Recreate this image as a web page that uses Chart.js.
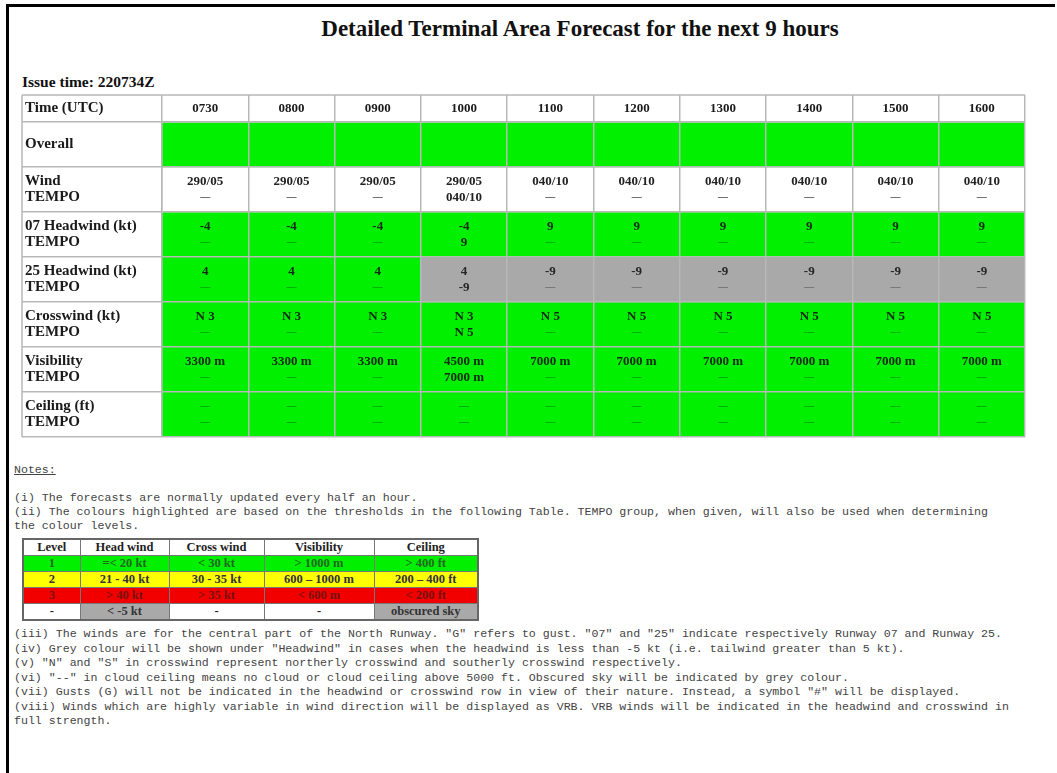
<!DOCTYPE html>
<html>
<head>
<meta charset="utf-8">
<script src="https://cdn.jsdelivr.net/npm/chart.js@4.4.0/dist/chart.umd.min.js"></script>
<style>
  body { margin: 0; width: 1057px; height: 773px; overflow: hidden; position: relative; background: #fff; font-family: "Liberation Serif", "Times New Roman", serif; }
  #frame { position: absolute; left: 6px; top: 4px; width: 1046px; height: 800px; border-top: 3px solid #000; border-left: 3px solid #000; }
  #grid { position: absolute; left: 0; top: 0; }
  #title { position: absolute; left: 0; width: 1160px; top: 15px; line-height: 28px; text-align: center; font-weight: bold; font-size: 23px; color: #111; }
  #issue { position: absolute; left: 22px; top: 73px; line-height: 18px; font-weight: bold; font-size: 15.5px; color: #111; }
  .notes { position: absolute; left: 14px; margin: 0; font-family: "Liberation Mono", "Courier New", monospace; font-size: 11.6px; color: #444; white-space: pre; }
  #notes1 { top: 463px; line-height: 14px; }
  #notes2 { top: 627px; line-height: 14.5px; }
  #notes1 u { text-decoration: underline; }
  #thr { position: absolute; left: 22px; top: 538px; border-collapse: collapse; border: 2px solid #666; font-size: 12.5px; font-weight: bold; color: #222; }
  #thr th, #thr td { border: 1px solid #777; padding: 0; height: 15px; line-height: 15px; text-align: center; }
  #thr .g td { background: #00f000; color: #1f6a1f; }
  #thr .y td { background: #ffff00; color: #333; }
  #thr .r td { background: #f20000; color: #7a1010; }
  #thr td.gr { background: #a9a9a9; color: #333; }
</style>
</head>
<body>
<div id="frame"></div>
<div id="title">Detailed Terminal Area Forecast for the next 9 hours</div>
<div id="issue">Issue time: 220734Z</div>
<canvas id="grid" width="1057" height="445"></canvas>

<pre class="notes" id="notes1"><u>Notes:</u>

(i) The forecasts are normally updated every half an hour.
(ii) The colours highlighted are based on the thresholds in the following Table. TEMPO group, when given, will also be used when determining
the colour levels.</pre>

<table id="thr">
  <colgroup><col style="width:57px"><col style="width:89px"><col style="width:95px"><col style="width:110px"><col style="width:104px"></colgroup>
  <tr><th>Level</th><th>Head wind</th><th>Cross wind</th><th>Visibility</th><th>Ceiling</th></tr>
  <tr class="g"><td>1</td><td>=&lt; 20 kt</td><td>&lt; 30 kt</td><td>&gt; 1000 m</td><td>&gt; 400 ft</td></tr>
  <tr class="y"><td>2</td><td>21 - 40 kt</td><td>30 - 35 kt</td><td>600 – 1000 m</td><td>200 – 400 ft</td></tr>
  <tr class="r"><td>3</td><td>&gt; 40 kt</td><td>&gt; 35 kt</td><td>&lt; 600 m</td><td>&lt; 200 ft</td></tr>
  <tr><td>-</td><td class="gr">&lt; -5 kt</td><td>-</td><td>-</td><td class="gr">obscured sky</td></tr>
</table>

<pre class="notes" id="notes2">(iii) The winds are for the central part of the North Runway. "G" refers to gust. "07" and "25" indicate respectively Runway 07 and Runway 25.
(iv) Grey colour will be shown under "Headwind" in cases when the headwind is less than -5 kt (i.e. tailwind greater than 5 kt).
(v) "N" and "S" in crosswind represent northerly crosswind and southerly crosswind respectively.
(vi) "--" in cloud ceiling means no cloud or cloud ceiling above 5000 ft. Obscured sky will be indicated by grey colour.
(vii) Gusts (G) will not be indicated in the headwind or crosswind row in view of their nature. Instead, a symbol "#" will be displayed.
(viii) Winds which are highly variable in wind direction will be displayed as VRB. VRB winds will be indicated in the headwind and crosswind in
full strength.</pre>

<script>
// forecast columns
const times = ['0730', '0800', '0900', '1000', '1100', '1200', '1300', '1400', '1500', '1600'];

const rowLabels = [
  'Overall',
  ['Wind', 'TEMPO'],
  ['07 Headwind (kt)', 'TEMPO'],
  ['25 Headwind (kt)', 'TEMPO'],
  ['Crosswind (kt)', 'TEMPO'],
  ['Visibility', 'TEMPO'],
  ['Ceiling (ft)', 'TEMPO'],
];

// cell texts, first line and TEMPO line
const windMain  = ['290/05', '290/05', '290/05', '290/05', '040/10', '040/10', '040/10', '040/10', '040/10', '040/10'];
const windTempo = ['—', '—', '—', '040/10', '—', '—', '—', '—', '—', '—'];
const hw07Main  = ['-4', '-4', '-4', '-4', '9', '9', '9', '9', '9', '9'];
const hw07Tempo = ['—', '—', '—', '9', '—', '—', '—', '—', '—', '—'];
const hw25Main  = ['4', '4', '4', '4', '-9', '-9', '-9', '-9', '-9', '-9'];
const hw25Tempo = ['—', '—', '—', '-9', '—', '—', '—', '—', '—', '—'];
const xwMain    = ['N 3', 'N 3', 'N 3', 'N 3', 'N 5', 'N 5', 'N 5', 'N 5', 'N 5', 'N 5'];
const xwTempo   = ['—', '—', '—', 'N 5', '—', '—', '—', '—', '—', '—'];
const visMain   = ['3300 m', '3300 m', '3300 m', '4500 m', '7000 m', '7000 m', '7000 m', '7000 m', '7000 m', '7000 m'];
const visTempo  = ['—', '—', '—', '7000 m', '—', '—', '—', '—', '—', '—'];
const ceilMain  = ['—', '—', '—', '—', '—', '—', '—', '—', '—', '—'];
const ceilTempo = ['—', '—', '—', '—', '—', '—', '—', '—', '—', '—'];

// colour level of each cell: 1 = green, G = grey, W = plain
const overallLevel = ['1', '1', '1', '1', '1', '1', '1', '1', '1', '1'];
const windLevel    = ['W', 'W', 'W', 'W', 'W', 'W', 'W', 'W', 'W', 'W'];
const hw07Level    = ['1', '1', '1', '1', '1', '1', '1', '1', '1', '1'];
const hw25Level    = ['1', '1', '1', 'G', 'G', 'G', 'G', 'G', 'G', 'G'];
const xwLevel      = ['1', '1', '1', '1', '1', '1', '1', '1', '1', '1'];
const visLevel     = ['1', '1', '1', '1', '1', '1', '1', '1', '1', '1'];
const ceilLevel    = ['1', '1', '1', '1', '1', '1', '1', '1', '1', '1'];

const LEVEL_BG = { '1': '#00f000', G: '#a9a9a9', W: '#ffffff' };
const LINE = '#b8b8b8';
const FONT = '"Liberation Serif", "Times New Roman", serif';

function textColour(level, dash) {
  if (level === '1') return dash ? 'rgba(0,90,0,0.55)' : '#142814';
  if (level === 'G') return dash ? 'rgba(40,40,40,0.5)' : '#262626';
  return dash ? '#444' : '#222';
}

function row(index, levels, main, tempo) {
  return {
    data: levels.map(() => [index, index + 1]),
    backgroundColor: levels.map(l => LEVEL_BG[l]),
    borderWidth: 0,
    grouped: false,
    barPercentage: 1,
    categoryPercentage: 1,
    levels,
    main,
    tempo,
  };
}

const cellText = {
  id: 'cellText',
  afterDraw(chart) {
    const ctx = chart.ctx;
    const { x, y } = chart.scales;
    ctx.save();

    // outer frame pieces not covered by the axes
    const left = y.right - y.options.grid.tickLength;
    ctx.strokeStyle = LINE;
    ctx.lineWidth = 1.5;
    ctx.beginPath();
    ctx.moveTo(left, x.top); ctx.lineTo(x.right, x.top);
    ctx.moveTo(left, x.top); ctx.lineTo(left, y.bottom);
    ctx.stroke();

    ctx.fillStyle = '#1a1a1a';
    ctx.font = `bold 15px ${FONT}`;
    ctx.textAlign = 'left';
    ctx.textBaseline = 'middle';
    ctx.fillText('Time (UTC)', y.left, (x.top + x.bottom) / 2);

    ctx.textAlign = 'center';
    chart.data.datasets.forEach((ds, i) => {
      const meta = chart.getDatasetMeta(i);
      meta.data.forEach((bar, j) => {
        const cy = (bar.y + bar.base) / 2;
        [ds.main, ds.tempo].forEach((arr, k) => {
          if (!arr) return;
          const t = arr[j];
          const dash = t === '—';
          ctx.font = dash ? `bold 10px ${FONT}` : `bold 13px ${FONT}`;
          ctx.fillStyle = textColour(ds.levels[j], dash);
          ctx.fillText(t, bar.x, cy + (k ? 8 : -8));
        });
      });
    });
    ctx.restore();
  },
};

const gridColour = ctx => (ctx.tick && ctx.tick.value % 1 === 0 ? LINE : 'rgba(0,0,0,0)');

new Chart(document.getElementById('grid'), {
  type: 'bar',
  data: {
    labels: times,
    datasets: [
      row(0, overallLevel, null, null),
      row(1, windLevel, windMain, windTempo),
      row(2, hw07Level, hw07Main, hw07Tempo),
      row(3, hw25Level, hw25Main, hw25Tempo),
      row(4, xwLevel, xwMain, xwTempo),
      row(5, visLevel, visMain, visTempo),
      row(6, ceilLevel, ceilMain, ceilTempo),
    ],
  },
  options: {
    responsive: false,
    animation: false,
    devicePixelRatio: 1,
    layout: { padding: { left: 25, top: 95, right: 32, bottom: 8 } },
    plugins: { legend: { display: false }, tooltip: { enabled: false } },
    scales: {
      x: {
        type: 'category',
        position: 'top',
        offset: true,
        afterFit: s => { s.height = 27; },
        ticks: { color: '#1a1a1a', font: { family: FONT, size: 13, weight: 'bold' }, padding: -21, maxRotation: 0 },
        grid: { z: 1, offset: true, tickLength: 27, color: LINE, tickColor: LINE, lineWidth: 1.5 },
        border: { z: 1, color: LINE, width: 1.5 },
      },
      y: {
        type: 'linear',
        position: 'left',
        reverse: true,
        min: 0,
        max: rowLabels.length,
        afterFit: s => { s.width = 137; },
        afterBuildTicks: s => {
          const ticks = [];
          for (let r = 0; r <= rowLabels.length; r++) {
            ticks.push({ value: r });
            if (r < rowLabels.length) ticks.push({ value: r + 0.5 });
          }
          s.ticks = ticks;
        },
        ticks: {
          autoSkip: false,
          crossAlign: 'far',
          padding: 0,
          color: '#1a1a1a',
          font: { family: FONT, size: 15, weight: 'bold', lineHeight: 1.07 },
          callback: v => (v % 1 ? rowLabels[Math.floor(v)] : ''),
        },
        grid: { z: 1, tickLength: 140, color: gridColour, tickColor: gridColour, lineWidth: 1.5 },
        border: { z: 1, color: LINE, width: 1.5 },
      },
    },
  },
  plugins: [cellText],
});
</script>
</body>
</html>
